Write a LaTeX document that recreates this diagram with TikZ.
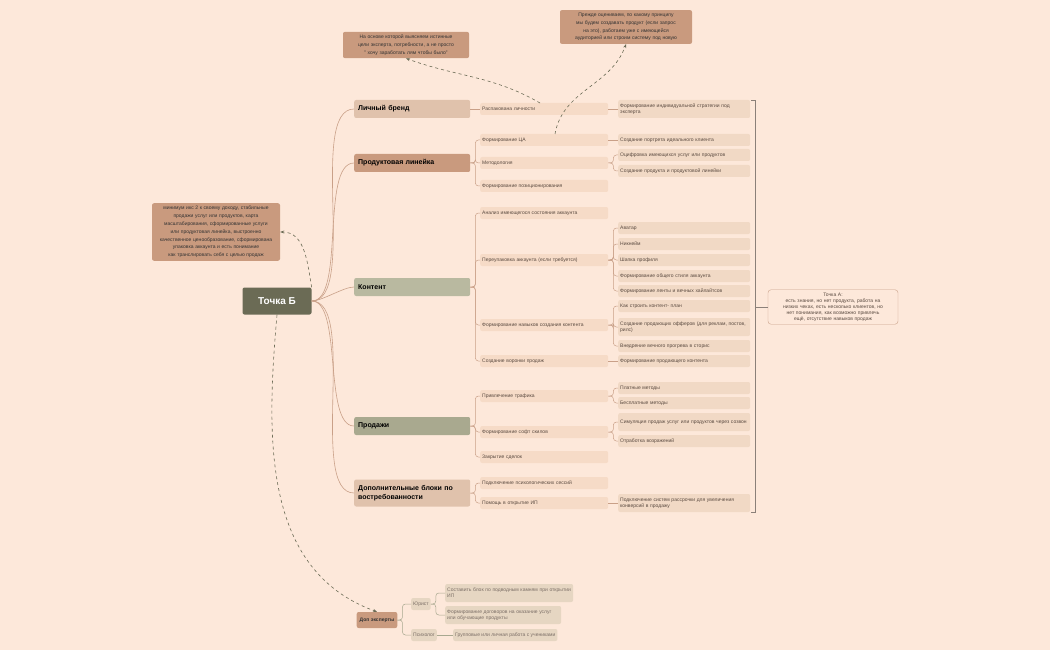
\documentclass[tikz,border=0pt]{standalone}
\usepackage{fontspec}
\setmainfont{Liberation Sans}
\usetikzlibrary{
    arrows.meta,
    calc,
    positioning,
}
\definecolor{bg}{HTML}{FDE8DA}
\definecolor{topicc}{HTML}{6B6B55}
\definecolor{brandc}{HTML}{E0C2AC}
\definecolor{prodc}{HTML}{C99A7E}
\definecolor{contc}{HTML}{B9B9A0}
\definecolor{salesc}{HTML}{A9A98F}
\definecolor{subc}{HTML}{F6DBC7}
\definecolor{leafc}{HTML}{F1D9C5}
\definecolor{dopc}{HTML}{E6D6C2}
\definecolor{linec}{HTML}{C9A088}
\definecolor{greenl}{HTML}{A8A890}
\definecolor{txtc}{HTML}{5A4A40}

\begin{document}
\begin{tikzpicture}[
        x=1pt, y=-1pt,
        font=\fontsize{5}{6}\selectfont,
        topic/.style={rectangle, rounded corners=2pt, fill=topicc, text=white, font=\fontsize{10}{12}\selectfont\bfseries, minimum width=69pt, minimum height=27pt},
        mainnode/.style={rectangle, rounded corners=2pt, anchor=west, text width=108pt, minimum height=18pt, align=left, inner sep=4pt, font=\fontsize{7}{8.5}\selectfont\bfseries},
        sub/.style={rectangle, rounded corners=2pt, fill=subc, text=txtc, anchor=west, text width=124pt, minimum height=12pt, align=left, inner sep=2pt},
        leaf/.style={rectangle, rounded corners=2pt, fill=leafc, text=txtc, anchor=west, text width=128pt, minimum height=12pt, align=left, inner sep=2pt},
        note/.style={rectangle, rounded corners=2pt, fill=prodc, text=black!80, align=center, inner sep=3pt, font=\fontsize{5}{7.8}\selectfont},
        dop/.style={rectangle, rounded corners=2pt, fill=dopc, text=txtc!80, anchor=west, align=left, inner sep=2pt, minimum height=12pt},
        link/.style={draw=linec, line width=0.6pt},
        branch/.style={draw=linec, line width=0.5pt, rounded corners=3pt},
        callout/.style={draw=topicc, dashed, line width=0.6pt, -{Stealth[length=4pt]}},
        ]
        \fill[bg] (0,0) rectangle (1050,650);
        \useasboundingbox (0,0) rectangle (1050,650);
        % central topic
        \node[topic] (B) at (277,301) {Точка Б};
        % main branches
        \node[mainnode, fill=brandc] (brand) at (354,109) {Личный бренд};
        \node[mainnode, fill=prodc]  (prod)  at (354,163) {Продуктовая линейка};
        \node[mainnode, fill=contc]  (cont)  at (354,287) {Контент};
        \node[mainnode, fill=salesc] (sales) at (354,426) {Продажи};
        \node[mainnode, fill=brandc, minimum height=27pt] (extra) at (354,493) {Дополнительные блоки по востребованности};
        % second level
        \node[sub] (unpack)  at (480,109) {Распакована личности};
        \node[sub] (ca)      at (480,140) {Формирование ЦА};
        \node[sub] (method)  at (480,163) {Методология};
        \node[sub] (pos)     at (480,186) {Формирование позиционирования};
        \node[sub] (analyse) at (480,213) {Анализ имеющегося состояния аккаунта};
        \node[sub] (repack)  at (480,260) {Переупаковка аккаунта (если требуется)};
        \node[sub] (skill)   at (480,325) {Формирование навыков создания контента};
        \node[sub] (funnel)  at (480,361) {Создание воронки продаж};
        \node[sub] (traffic) at (480,396) {Привлечение трафика};
        \node[sub] (soft)    at (480,432) {Формирование софт скилов};
        \node[sub] (close)   at (480,457) {Закрытие сделок};
        \node[sub] (psy)     at (480,483) {Подключение психологических сессий};
        \node[sub] (ip)      at (480,503) {Помощь в открытие ИП};
        % third level
        \node[leaf, minimum height=18pt] (strat) at (618,109) {Формирование индивидуальной стратегии под эксперта};
        \node[leaf] (portrait) at (618,140) {Создание портрета идеального клиента};
        \node[leaf] (digit)    at (618,155) {Оцифровка имеющихся услуг или продуктов};
        \node[leaf] (product)  at (618,171) {Создание продукта и продуктовой линейки};
        \node[leaf] (avatar)   at (618,228) {Аватар};
        \node[leaf] (nick)     at (618,244) {Никнейм};
        \node[leaf] (header)   at (618,260) {Шапка профиля};
        \node[leaf] (style)    at (618,276) {Формирование общего стиля аккаунта};
        \node[leaf] (feed)     at (618,291) {Формирование ленты и вечных хайлайтсов};
        \node[leaf] (plan)     at (618,306) {Как строить контент- план};
        \node[leaf, minimum height=18pt] (offer) at (618,327) {Создание продающих офферов (для реклам, постов, рилс)};
        \node[leaf] (stories)  at (618,346) {Внедрение вечного прогрева в сторис};
        \node[leaf] (selling)  at (618,361) {Формирование продающего контента};
        \node[leaf] (paid)     at (618,388) {Платные методы};
        \node[leaf] (free)     at (618,403) {Бесплатные методы};
        \node[leaf, minimum height=18pt] (sim) at (618,422) {Симуляция продаж услуг или продуктов через созвон};
        \node[leaf] (object)   at (618,441) {Отработка возражений};
        \node[leaf, minimum height=18pt] (credit) at (618,503) {Подключение систем рассрочки для увеличения конверсий в продажу};
        % point A
        \node[rectangle, rounded corners=3pt, draw=linec, fill=bg, text=txtc, align=center, text width=124pt, inner sep=3pt] (A) at (833,307)
            {Точка А:\\есть знания, но нет продукта, работа на низких чеках, есть несколько клиентов, но нет понимания, как возможно привлечь ещё, отсутствие навыков продаж};
        \coordinate (brtop) at (755,100);
        \coordinate (brbot) at (755,512);
        \draw[draw=txtc!70, line width=0.5pt] ($(brtop)+(-4,0)$) -- (brtop) -- (brbot) -- ++(-4,0);
        \draw[draw=txtc!70, line width=0.5pt] (755,307) -- (A.west);
        % notes
        \node[note, text width=120pt] (n1) at (406,45) {На основе которой выясняем истинные цели эксперта, потребности, а не просто " хочу заработать лям чтобы было"};
        \node[note, text width=126pt] (n2) at (626,27) {Прежде оцениваем, по какому принципу мы будем создавать продукт (если запрос на это), работаем уже с имеющейся аудиторией или строим систему под новую};
        \node[note, text width=122pt] (n3) at (216,232) {минимум икс 2 к своему доходу, стабильные продажи услуг или продуктов, карта масштабирования, сформированные услуги или продуктовая линейка, выстроенно качественное ценообразование, сформирована упаковка аккаунта и есть понимание как транслировать себя с целью продаж};
        \node[note, font=\fontsize{5}{6}\selectfont\bfseries, minimum height=16pt] (dop) at (377,620) {Доп эксперты};
        % dop experts
        \node[dop] (lawyer) at (411,604) {Юрист};
        \node[dop] (psych)  at (411,635) {Психолог};
        \node[dop, text width=124pt, minimum height=18pt] (trap)     at (445,593) {Составить блок по подводным камням при открытии ИП};
        \node[dop, text width=112pt, minimum height=18pt] (contract) at (445,615) {Формирование договоров на оказание услуг или обучающие продукты};
        \node[dop] (group) at (453,635) {Групповые или личная работа с учениками};
        % connectors from topic
        \foreach \m in {brand, prod, cont, sales, extra}
            \draw[link] (B.east) to[out=0, in=180, looseness=0.6] (\m.west);
        % branch connectors
        \foreach \p/\c in {prod/ca, prod/method, prod/pos, cont/analyse, cont/repack, cont/skill, cont/funnel, sales/traffic, sales/soft, sales/close, extra/psy, extra/ip,
            method/digit, method/product, repack/avatar, repack/nick, repack/header, repack/style, repack/feed,
            skill/plan, skill/offer, skill/stories, traffic/paid, traffic/free, soft/sim, soft/object}
            \draw[branch] (\p.east) -- ++(5,0) |- (\c.west);
        \foreach \p/\c in {brand/unpack, unpack/strat, ca/portrait, funnel/selling, ip/credit}
            \draw[link, line width=0.5pt] (\p.east) -- (\c.west);
        \foreach \p/\c in {dop/lawyer, dop/psych, lawyer/trap, lawyer/contract}
            \draw[branch, draw=greenl] (\p.east) -- ++(5,0) |- (\c.west);
        \draw[draw=greenl, line width=0.5pt] (psych.east) -- (group.west);
        % callouts
        \draw[callout] (540,103) to[out=150, in=-20] (n1.south);
        \draw[callout] (555,134) to[out=80, in=-110] (n2.south);
        \draw[callout] (B.north east) to[out=100, in=0] (n3.east);
        \draw[callout] (B.south) to[out=-95, in=160] (dop.north);
\end{tikzpicture}
\end{document}
